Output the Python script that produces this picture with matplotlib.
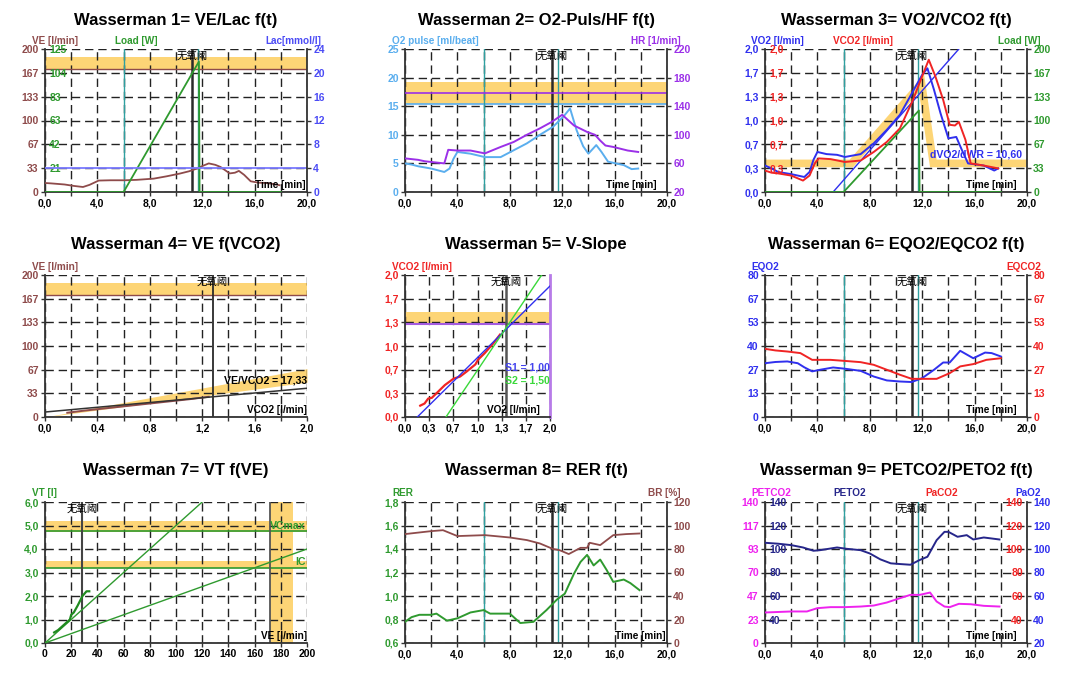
import numpy as np
import matplotlib
matplotlib.use('Agg')
import matplotlib.pyplot as plt

plt.rcParams['font.family'] = ['Liberation Sans', 'Noto Sans CJK SC', 'DejaVu Sans']
plt.rcParams['font.weight'] = 'bold'

# ---------------- data ----------------
at_time = 11.2            # 无氧阈 line (time panels)
phase_times = [6.0, 11.7]  # teal phase lines

# Wasserman 1: VE / Load / Lac
t_ve = [0.0, 0.5, 1.5, 2.2, 2.9, 3.4, 4.1, 5.0, 6.1, 7.0, 8.3, 9.3, 10.3, 11.0, 11.6,
        12.1, 12.5, 13.0, 13.4, 14.1, 14.5, 14.8, 15.2, 15.7, 16.3, 16.9, 17.5, 17.9]
ve = [12.6, 12.0, 10.5, 8.5, 7.0, 10.0, 16.0, 16.4, 16.4, 17.0, 18.7, 22.0, 25.8, 29.0, 32.8,
      37.0, 40.0, 38.0, 35.0, 26.0, 27.0, 29.5, 24.0, 15.0, 13.0, 12.6, 11.0, 9.5]
t_load = [0.0, 6.0, 11.75, 11.8, 18.0]
load = [0, 0, 114, 0, 0]
ve_band = [172, 188.5]
lac_line = 4

# Wasserman 2: O2 pulse / HR
t_o2p = [0.0, 0.5, 1.0, 2.0, 2.5, 3.0, 3.4, 3.7, 4.0, 5.0, 6.1, 7.3, 8.3, 9.3, 10.3, 11.3,
         12.1, 12.6, 13.1, 13.6, 14.0, 14.6, 15.0, 15.5, 16.7, 17.3, 17.8]
o2p = [5.0, 4.8, 4.5, 4.1, 3.8, 3.5, 4.1, 5.8, 7.0, 6.7, 6.1, 6.1, 7.3, 8.5, 10.0, 11.4,
       13.2, 14.6, 10.8, 8.0, 6.7, 8.2, 7.0, 5.3, 4.7, 4.0, 4.1]
t_hr = [0.0, 0.5, 1.0, 1.5, 2.0, 3.0, 3.3, 4.0, 5.0, 6.1, 7.3, 8.3, 9.3, 10.3, 11.2, 12.0,
        12.9, 13.9, 14.5, 14.9, 15.3, 15.9, 17.0, 17.8]
hr = [67, 66, 65, 63, 62, 60, 79, 78, 78, 74, 83, 90, 100, 109, 118, 128,
      113, 104, 100, 92, 85, 83, 78, 76]
o2p_band = [15.4, 19.2]
hr_line = 159

# Wasserman 3: VO2 / VCO2 / Load
t_vo2 = [0.0, 0.5, 1.0, 2.0, 3.0, 3.4, 3.7, 4.0, 4.7, 5.5, 6.1, 7.3, 8.3, 9.3, 10.3, 11.3,
         12.0, 12.4, 12.9, 13.4, 14.0, 14.6, 15.0, 15.5, 16.7, 17.5, 17.8]
vo2 = [0.37, 0.33, 0.28, 0.25, 0.21, 0.28, 0.45, 0.56, 0.53, 0.52, 0.49, 0.53, 0.68, 0.87, 1.08, 1.41,
       1.64, 1.73, 1.43, 1.10, 0.75, 0.77, 0.60, 0.40, 0.37, 0.30, 0.33]
t_vco2 = [0.0, 0.5, 1.0, 2.0, 2.9, 3.4, 3.8, 4.1, 5.0, 6.1, 7.3, 8.3, 9.3, 10.3, 11.3, 12.0,
          12.5, 13.0, 13.6, 14.1, 14.5, 14.8, 15.3, 15.7, 16.7, 17.8]
vco2 = [0.30, 0.27, 0.26, 0.23, 0.16, 0.23, 0.40, 0.47, 0.46, 0.42, 0.44, 0.56, 0.70, 0.89, 1.29, 1.62,
        1.85, 1.62, 1.29, 0.94, 0.93, 0.98, 0.73, 0.40, 0.37, 0.33]
pred_t = [0.0, 6.6, 11.95, 12.85, 20.0]
pred_vo2 = [0.40, 0.40, 1.52, 0.40, 0.40]
slope_t = [5.2, 14.8]
slope_vo2 = [0.0, 2.0]

# Wasserman 4: VE f(VCO2)
w4_vco2 = [0.17, 0.3, 0.5, 0.7, 0.9, 1.1, 1.25]
w4_ve = [6.0, 9.0, 13.0, 17.0, 21.0, 25.0, 28.5]
w4_fit_x = [0.0, 2.0]
w4_fit_ve = [7.0, 40.5]
w4_wedge_x = [0.0, 2.0]
w4_wedge_lo = [0.0, 49.0]
w4_wedge_hi = [0.0, 68.0]
w4_at = 1.28

# Wasserman 5: V-slope
w5_vo2 = [0.21, 0.27, 0.32, 0.37, 0.45, 0.51, 0.55, 0.67, 0.76, 0.85, 0.97, 1.01, 1.10, 1.22, 1.31]
w5_vco2 = [0.16, 0.19, 0.26, 0.27, 0.35, 0.41, 0.45, 0.54, 0.57, 0.64, 0.74, 0.81, 0.90, 1.04, 1.16]
s1_x, s1_y = [0.17, 2.0], [0.0, 1.845]
s2_x, s2_y = [0.565, 1.885], [0.0, 2.0]
w5_band = [1.31, 1.485]
w5_at = 1.39

# Wasserman 6: EQO2 / EQCO2
t_eqo2 = [0.0, 0.8, 1.7, 2.5, 3.0, 3.6, 4.2, 5.2, 6.1, 7.3, 8.3, 9.3, 10.3, 11.2, 12.0,
          12.9, 13.6, 14.1, 14.9, 15.9, 16.8, 17.3, 18.0]
eqo2 = [30.3, 31.0, 31.3, 30.3, 28.0, 25.7, 26.6, 27.9, 27.2, 26.0, 22.8, 20.6, 20.0, 19.7, 21.9,
        26.6, 30.7, 30.7, 37.3, 33.1, 36.3, 36.0, 34.1]
t_eqco2 = [0.0, 0.8, 1.7, 2.7, 3.6, 5.0, 6.1, 7.3, 8.3, 9.3, 10.3, 11.2, 12.1, 13.1, 14.1,
           14.9, 15.9, 16.9, 18.0]
eqco2 = [38.4, 37.5, 36.9, 36.0, 32.2, 32.2, 31.6, 30.9, 29.4, 26.6, 23.8, 21.5, 21.5, 21.5, 24.7,
         28.5, 29.8, 32.2, 33.1]

# Wasserman 7: VT f(VE)
w7_ve = [7, 10, 13, 16, 19, 20, 22, 25, 28.6, 31.7, 33.8]
w7_vt = [0.45, 0.55, 0.7, 0.85, 1.0, 1.2, 1.3, 1.6, 2.0, 2.2, 2.2]
w7_line1_x, w7_line1_y = [0, 120], [0, 6.0]
w7_line2_x, w7_line2_y = [0, 200], [0, 4.0]
vcmax_band, vcmax = [4.73, 5.18], 4.75
ic_band, ic = [3.18, 3.49], 3.2
mvv_band = [172, 189]
w7_at = 28.6

# Wasserman 8: RER / BR
t_rer = [0.0, 0.5, 1.1, 2.0, 2.4, 3.2, 4.0, 5.0, 6.0, 6.5, 8.0, 8.8, 9.8, 10.8, 11.6, 12.2,
         12.9, 13.4, 13.9, 14.4, 14.9, 15.4, 15.9, 16.7, 17.2, 17.9]
rer = [0.78, 0.82, 0.84, 0.84, 0.85, 0.79, 0.81, 0.86, 0.88, 0.85, 0.85, 0.77, 0.78, 0.88, 0.97, 1.02,
       1.19, 1.29, 1.35, 1.26, 1.31, 1.22, 1.12, 1.14, 1.11, 1.05]
t_br = [0.0, 2.0, 2.9, 4.0, 6.1, 8.0, 9.3, 10.3, 11.3, 11.8, 12.5, 13.4, 13.9, 14.1, 14.9,
        15.9, 16.9, 17.9]
br = [92.7, 95.2, 96.0, 91.0, 91.8, 89.8, 87.6, 84.7, 80.0, 79.0, 75.7, 81.0, 81.0, 85.3, 83.3,
      91.8, 92.7, 93.2]

# Wasserman 9: PETCO2 / PETO2
t_peto2 = [0.0, 1.0, 2.0, 2.9, 3.7, 4.2, 5.5, 6.2, 7.3, 8.0, 8.8, 9.6, 10.3, 11.1, 11.8, 12.4,
           13.1, 13.7, 14.0, 14.7, 15.4, 15.9, 16.7, 17.9]
peto2 = [105.3, 104.5, 103.3, 101.3, 98.5, 99.0, 101.3, 100.2, 99.0, 96.2, 91.2, 87.8, 87.2, 86.6,
         90.6, 93.4, 107.5, 114.6, 114.6, 110.4, 111.8, 108.1, 109.8, 108.1]
t_petco2 = [0.0, 2.0, 3.2, 4.0, 5.0, 6.1, 7.3, 8.3, 9.3, 10.3, 11.1, 11.8, 12.6, 13.1, 13.7,
            14.1, 14.8, 15.7, 16.7, 17.9]
petco2 = [30.3, 31.3, 31.3, 34.6, 35.6, 35.6, 36.2, 37.2, 40.2, 44.5, 47.8, 47.8, 50.1, 41.2, 36.2,
          35.6, 38.9, 38.5, 36.9, 36.2]

# ---------------- styling ----------------
BROWN = '#8e4b4b'
GREEN = '#2f9a2f'
LACBLUE = '#4b4bf5'
LBLUE = '#5aaeee'
PURPLE = '#9b30e8'
BLUE = '#3030ee'
RED = '#f02424'
TEAL = '#2fa0a0'
YELLOW = '#fdd576'
MAGENTA = '#ee22ee'
NAVY = '#26268a'
LGREEN = '#3ad83a'
FS = 7.5

W, H = 1080, 677
fig = plt.figure(figsize=(W / 100, H / 100), dpi=100)


def fmt(v):
    return f'{v:.1f}'.replace('.', ',')


tt = list(range(0, 21, 2))
tlab = [fmt(v) if v % 4 == 0 else '' for v in tt]
thirds = [i / 3 for i in range(7)]
thirds_lab = ['0,0', '0,3', '0,7', '1,0', '1,3', '1,7', '2,0']


def sixths(lo, hi):
    return [lo + (hi - lo) * i / 6 for i in range(7)]


def make_ax(l, t, r, b):
    return fig.add_axes([l / W, 1 - b / H, (r - l) / W, (b - t) / H])


def style(ax, xlim, xt, xl, ylim, yt, yl, ycol):
    ax.set_xlim(*xlim)
    ax.set_ylim(*ylim)
    ax.tick_params(length=3, width=1, labelsize=FS, pad=1.5, color='#333')
    ax.set_xticks(xt)
    ax.set_xticklabels(xl)
    ax.set_yticks(yt)
    ax.set_yticklabels(yl, color=ycol)
    ax.grid(True, color='#222', lw=1.0, linestyle=(0, (6, 3.5)))
    for s in ['top', 'right']:
        ax.spines[s].set_visible(False)
    for s in ['left', 'bottom']:
        ax.spines[s].set_color('#333')
        ax.spines[s].set_linewidth(1.3)


def right_axis(ax, ylim, yt, yl, col):
    a = ax.twinx()
    a.set_ylim(*ylim)
    a.tick_params(axis='y', length=3, width=1, labelsize=FS, pad=1.5, color='#333')
    a.set_yticks(yt)
    a.set_yticklabels(yl, color=col)
    for s in ['top', 'left', 'bottom']:
        a.spines[s].set_visible(False)
    a.spines['right'].set_color('#333')
    a.spines['right'].set_linewidth(1.3)
    return a


def inner_axis(ax, ylim, yt, yl, col, side='left'):
    a = ax.twinx()
    if side == 'left':
        a.yaxis.tick_left()
    a.set_ylim(*ylim)
    a.tick_params(axis='y', length=0, pad=-3, labelsize=FS)
    a.set_yticks(yt)
    a.set_yticklabels(yl, color=col)
    for s in a.spines.values():
        s.set_visible(False)
    for lab in a.get_yticklabels():
        lab.set_ha('left' if side == 'left' else 'right')
    return a


def at_label(ax, x):
    ax.text(x, 0.945, '无氧阈', transform=ax.get_xaxis_transform(), ha='center', va='center',
            fontsize=7.5, fontweight='normal', family=['Noto Sans CJK SC'], zorder=6)


def time_marks(ax):
    for x in phase_times:
        ax.axvline(x, color=TEAL, lw=1.0, zorder=2)
    ax.axvline(at_time, color='#2a2a2a', lw=1.8, zorder=2)
    at_label(ax, at_time)


def corner(ax, s, x=0.975):
    ax.text(x, 0.015, s, transform=ax.transAxes, ha='right', va='bottom', fontsize=7.2, zorder=6)


def top_label(x, y, s, col, ha='left'):
    fig.text(x / W, 1 - y / H, s, color=col, ha=ha, va='baseline', fontsize=7.2, fontweight='bold')


def title(x, y, s):
    fig.text(x / W, 1 - y / H, s, ha='center', va='center', fontsize=12, fontweight='bold')


ROW = [(49, 192), (275, 417), (502, 643)]
COL = [(45, 307), (405, 667), (765, 1027)]
TITLE_Y = [20, 245, 471]
COL_C = [176, 536, 896]

ve_t = sixths(0, 200)
ve_l = ['0', '33', '67', '100', '133', '167', '200']

# ---- Wasserman 1 ----
ax = make_ax(COL[0][0], ROW[0][0], COL[0][1], ROW[0][1])
style(ax, (0, 20), tt, tlab, (0, 200), ve_t, ve_l, BROWN)
ax.axhspan(*ve_band, color=YELLOW, lw=0, zorder=0.5)
ax.axhline(ve_band[0], color=BROWN, lw=1.0)
time_marks(ax)
ax.plot(t_ve, ve, color=BROWN, lw=1.3, zorder=3)
corner(ax, 'Time [min]', 0.995)
al = inner_axis(ax, (0, 125), sixths(0, 125)[1:], ['21', '42', '63', '83', '104', '125'], GREEN)
ar = right_axis(ax, (0, 24), list(range(0, 25, 4)), [str(v) for v in range(0, 25, 4)], LACBLUE)
ar.axhline(lac_line, color='#7a7aff', lw=1.3)
al.plot(t_load, load, color=GREEN, lw=1.3)
title(COL_C[0], TITLE_Y[0], 'Wasserman 1= VE/Lac f(t)')
top_label(32, 44, 'VE [l/min]', BROWN)
top_label(115, 44, 'Load [W]', GREEN)
top_label(321, 44, 'Lac[mmol/l]', LACBLUE, ha='right')

# ---- Wasserman 2 ----
ax = make_ax(COL[1][0], ROW[0][0], COL[1][1], ROW[0][1])
style(ax, (0, 20), tt, tlab, (0, 25), list(range(0, 26, 5)), [str(v) for v in range(0, 26, 5)], LBLUE)
ax.axhspan(*o2p_band, color=YELLOW, lw=0, zorder=0.5)
ax.axhline(o2p_band[0], color=LBLUE, lw=1.2)
time_marks(ax)
ax.plot(t_o2p, o2p, color=LBLUE, lw=1.4, zorder=3)
corner(ax, 'Time [min]', 0.96)
ar = right_axis(ax, (20, 220), list(range(20, 221, 40)), [str(v) for v in range(20, 221, 40)], PURPLE)
ar.axhline(hr_line, color=PURPLE, lw=1.2)
ar.plot(t_hr, hr, color=PURPLE, lw=1.4)
title(COL_C[1], TITLE_Y[0], 'Wasserman 2= O2-Puls/HF f(t)')
top_label(392, 44, 'O2 pulse [ml/beat]', LBLUE)
top_label(681, 44, 'HR [1/min]', PURPLE, ha='right')

# ---- Wasserman 3 ----
ax = make_ax(COL[2][0], ROW[0][0], COL[2][1], ROW[0][1])
style(ax, (0, 20), tt, tlab, (0, 2), thirds, thirds_lab, BLUE)
ax.plot(pred_t, pred_vo2, color=YELLOW, lw=5.5, zorder=1, solid_joinstyle='miter')
time_marks(ax)
ax.plot(slope_t, slope_vo2, color=BLUE, lw=1.0, zorder=3)
ax.plot(t_vo2, vo2, color=BLUE, lw=1.4, zorder=3)
ax.text(0.98, 0.262, 'dVO2/dWR = 10,60', transform=ax.transAxes, ha='right', va='center',
        color=BLUE, fontsize=7.6, zorder=6)
corner(ax, 'Time [min]', 0.96)
ac = inner_axis(ax, (0, 2), thirds[1:], thirds_lab[1:], RED)
ac.plot(t_vco2, vco2, color=RED, lw=1.4)
ar = right_axis(ax, (0, 200), sixths(0, 200), ve_l, GREEN)
ar.plot(t_load, load, color=GREEN, lw=1.3)
title(COL_C[2], TITLE_Y[0], 'Wasserman 3= VO2/VCO2 f(t)')
top_label(751, 44, 'VO2 [l/min]', BLUE)
top_label(833, 44, 'VCO2 [l/min]', RED)
top_label(1041, 44, 'Load [W]', GREEN, ha='right')

# ---- Wasserman 4 ----
ax = make_ax(COL[0][0], ROW[1][0], COL[0][1], ROW[1][1])
x4 = [i * 0.2 for i in range(11)]
x4l = [fmt(v) if i % 2 == 0 else '' for i, v in enumerate(x4)]
style(ax, (0, 2), x4, x4l, (0, 200), ve_t, ve_l, BROWN)
ax.axhspan(*ve_band, color=YELLOW, lw=0, zorder=0.5)
ax.axhline(ve_band[0], color=BROWN, lw=1.0)
ax.fill_between(w4_wedge_x, w4_wedge_lo, w4_wedge_hi, color=YELLOW, lw=0, zorder=0.6)
ax.axvline(w4_at, color='#2a2a2a', lw=1.3, zorder=2)
at_label(ax, w4_at)
ax.plot(w4_vco2, w4_ve, color=BROWN, lw=1.4, zorder=3)
ax.plot(w4_fit_x, w4_fit_ve, color='#333', lw=1.1, zorder=3)
ax.text(2.0, 45, 'VE/VCO2 = 17,33', ha='right', va='bottom', fontsize=7.6, zorder=6)
corner(ax, 'VCO2 [l/min]', 1.0)
title(COL_C[0], TITLE_Y[1], 'Wasserman 4= VE f(VCO2)')
top_label(32, 270, 'VE [l/min]', BROWN)

# ---- Wasserman 5 ----
ax = make_ax(405, ROW[1][0], 550, ROW[1][1])
style(ax, (0, 2), thirds, thirds_lab, (0, 2), thirds, thirds_lab, RED)
ax.spines['right'].set_visible(True)
ax.spines['right'].set_color('#b77be8')
ax.spines['right'].set_linewidth(2)
ax.axhspan(*w5_band, color=YELLOW, lw=0, zorder=0.5)
ax.axhline(w5_band[0], color='#a45be0', lw=1.5, zorder=2)
ax.axvline(w5_at, color='#555', lw=1.8, zorder=2)
at_label(ax, w5_at)
ax.plot(w5_vo2, w5_vco2, color=RED, lw=1.6, zorder=3)
ax.plot(s1_x, s1_y, color=BLUE, lw=1.0, zorder=4)
ax.plot(s2_x, s2_y, color=LGREEN, lw=1.0, zorder=4)
ax.text(1.38, 0.70, 'S1 = 1,00', color='#4444ee', ha='left', va='center', fontsize=7.6, zorder=6)
ax.text(1.38, 0.515, 'S2 = 1,50', color=LGREEN, ha='left', va='center', fontsize=7.6, zorder=6)
corner(ax, 'VO2 [l/min]', 0.93)
title(536, TITLE_Y[1], 'Wasserman 5= V-Slope')
top_label(392, 270, 'VCO2 [l/min]', RED)

# ---- Wasserman 6 ----
eq_t = sixths(0, 80)
eq_l = ['0', '13', '27', '40', '53', '67', '80']
ax = make_ax(COL[2][0], ROW[1][0], COL[2][1], ROW[1][1])
style(ax, (0, 20), tt, tlab, (0, 80), eq_t, eq_l, BLUE)
time_marks(ax)
ax.plot(t_eqo2, eqo2, color=BLUE, lw=1.4, zorder=3)
corner(ax, 'Time [min]', 0.96)
ar = right_axis(ax, (0, 80), eq_t, eq_l, RED)
ar.plot(t_eqco2, eqco2, color=RED, lw=1.4)
title(COL_C[2], TITLE_Y[1], 'Wasserman 6= EQO2/EQCO2 f(t)')
top_label(751, 270, 'EQO2', BLUE)
top_label(1041, 270, 'EQCO2', RED, ha='right')

# ---- Wasserman 7 ----
ax = make_ax(COL[0][0], ROW[2][0], COL[0][1], ROW[2][1])
x7 = list(range(0, 201, 20))
style(ax, (0, 200), x7, [str(v) for v in x7], (0, 6), list(range(7)), [fmt(v) for v in range(7)], GREEN)
ax.axhspan(*vcmax_band, color=YELLOW, lw=0, zorder=0.5)
ax.axhline(vcmax, color=GREEN, lw=1.2, zorder=2)
ax.axhspan(*ic_band, color=YELLOW, lw=0, zorder=0.5)
ax.axhline(ic, color=GREEN, lw=1.2, zorder=2)
ax.axvspan(*mvv_band, color=YELLOW, lw=0, zorder=0.5)
ax.axvline(mvv_band[0], color='#555', lw=1.3, zorder=2)
ax.axvline(w7_at, color='#444', lw=1.5, zorder=2)
at_label(ax, w7_at)
ax.plot(w7_line1_x, w7_line1_y, color=GREEN, lw=1.0, zorder=3)
ax.plot(w7_line2_x, w7_line2_y, color=GREEN, lw=1.0, zorder=3)
ax.plot(w7_ve, w7_vt, color='#1f8a1f', lw=1.6, zorder=3)
ax.text(199, 4.97, 'VCmax', color=GREEN, ha='right', va='center', fontsize=7.6, zorder=6)
ax.text(199, 3.43, 'IC', color=GREEN, ha='right', va='center', fontsize=7.6, zorder=6)
corner(ax, 'VE [l/min]', 1.0)
title(COL_C[0], TITLE_Y[2], 'Wasserman 7= VT f(VE)')
top_label(32, 496, 'VT [l]', GREEN)

# ---- Wasserman 8 ----
ax = make_ax(COL[1][0], ROW[2][0], COL[1][1], ROW[2][1])
r8 = [0.6 + 0.2 * i for i in range(7)]
style(ax, (0, 20), tt, tlab, (0.6, 1.8), r8, [fmt(v) for v in r8], GREEN)
time_marks(ax)
ax.plot(t_rer, rer, color=GREEN, lw=1.4, zorder=3)
corner(ax, 'Time [min]', 0.995)
ar = right_axis(ax, (0, 120), list(range(0, 121, 20)), [str(v) for v in range(0, 121, 20)], BROWN)
ar.plot(t_br, br, color=BROWN, lw=1.3)
title(COL_C[1], TITLE_Y[2], 'Wasserman 8= RER f(t)')
top_label(392, 496, 'RER', GREEN)
top_label(681, 496, 'BR [%]', BROWN, ha='right')

# ---- Wasserman 9 ----
ax = make_ax(COL[2][0], ROW[2][0], COL[2][1], ROW[2][1])
style(ax, (0, 20), tt, tlab, (0, 140), sixths(0, 140), ['0', '23', '47', '70', '93', '117', '140'], MAGENTA)
time_marks(ax)
ax.plot(t_petco2, petco2, color=MAGENTA, lw=1.4, zorder=3)
corner(ax, 'Time [min]', 0.96)
p_t = list(range(40, 141, 20))
an = inner_axis(ax, (20, 140), p_t, [str(v) for v in p_t], NAVY)
an.plot(t_peto2, peto2, color=NAVY, lw=1.4)
inner_axis(ax, (20, 140), p_t, [str(v) for v in p_t], RED, side='right')
right_axis(ax, (20, 140), list(range(20, 141, 20)), [str(v) for v in range(20, 141, 20)], BLUE)
title(COL_C[2], TITLE_Y[2], 'Wasserman 9= PETCO2/PETO2 f(t)')
top_label(751, 496, 'PETCO2', MAGENTA)
top_label(833, 496, 'PETO2', NAVY)
top_label(925, 496, 'PaCO2', RED)
top_label(1041, 496, 'PaO2', BLUE, ha='right')

fig.savefig('out.png', dpi=100)
